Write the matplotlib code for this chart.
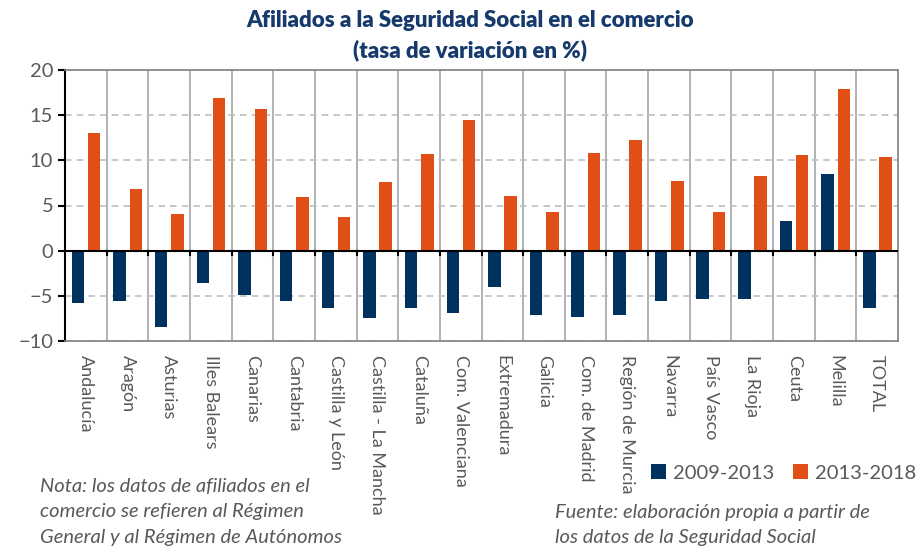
import matplotlib.pyplot as plt
import numpy as np

regiones = ["Andalucía", "Aragón", "Asturias", "Illes Balears", "Canarias", "Cantabria",
            "Castilla y León", "Castilla - La Mancha", "Cataluña", "Com. Valenciana",
            "Extremadura", "Galicia", "Com. de Madrid", "Región de Murcia", "Navarra",
            "País Vasco", "La Rioja", "Ceuta", "Melilla", "TOTAL"]
v_2009_2013 = [-5.8, -5.6, -8.5, -3.6, -4.9, -5.6, -6.3, -7.5, -6.3, -6.9,
               -4.0, -7.1, -7.3, -7.1, -5.6, -5.4, -5.4, 3.3, 8.5, -6.3]
v_2013_2018 = [13.0, 6.8, 4.1, 16.9, 15.7, 5.9, 3.7, 7.6, 10.7, 14.5,
               6.0, 4.3, 10.8, 12.2, 7.7, 4.3, 8.3, 10.6, 17.9, 10.4]

azul = "#00315F"
naranja = "#E05016"
gris = "#595959"

plt.rcParams['font.family'] = ['Lato', 'DejaVu Sans']

fig = plt.figure(figsize=(9.18, 5.51), dpi=100)
ax = fig.add_axes([65 / 918, 1 - 341 / 551, 833 / 918, 271 / 551])

x = np.arange(len(regiones))
w = 0.3
ax.bar(x - 0.19, v_2009_2013, width=w, color=azul, label="2009-2013", zorder=3)
ax.bar(x + 0.2, v_2013_2018, width=w, color=naranja, label="2013-2018", zorder=3)

ax.set_xlim(-0.5, len(regiones) - 0.5)
ax.set_ylim(-10, 20)
ax.set_yticks(range(-10, 21, 5))
ax.yaxis.grid(True, linestyle=(0, (4, 3)), color="#BFBFBF", linewidth=1.2, zorder=1)
for b in np.arange(0.5, len(regiones) - 1, 1):
    ax.axvline(b, color="#A6A6A6", linewidth=1.2, zorder=1)
    ax.plot([b, b], [0, -0.45], color="black", linewidth=1.5, zorder=4, clip_on=False)
ax.axhline(0, color="black", linewidth=1.5, zorder=4)

for s in ["top", "right", "bottom"]:
    ax.spines[s].set_color("#808080")
    ax.spines[s].set_linewidth(1.2)
ax.spines["left"].set_color("black")
ax.spines["left"].set_linewidth(1.5)

ax.set_xticks(x)
ax.set_xticklabels(regiones, rotation=270, fontsize=13, color=gris, va="top", ha="center")
ax.tick_params(axis="x", length=0, pad=10)
ax.tick_params(axis="y", labelsize=14.5, labelcolor=gris, length=5, width=1.5, color="black")

fig.text(0.512, 0.962, "Afiliados a la Seguridad Social en el comercio", ha="center", va="center",
         fontsize=16, fontweight="heavy", color="#163A6B")
fig.text(0.512, 0.909, "(tasa de variación en %)", ha="center", va="center",
         fontsize=16, fontweight="heavy", color="#163A6B")

fig.legend(loc="center right", bbox_to_anchor=(916 / 918, 1 - 473 / 551), ncol=2, frameon=False,
           fontsize=14.5, handlelength=0.75, handleheight=0.75, columnspacing=0.9,
           handletextpad=0.35, labelcolor=gris, borderaxespad=0, borderpad=0)

nota = "Nota: los datos de afiliados en el\ncomercio se refieren al Régimen\nGeneral y al Régimen de Autónomos"
fuente = "Fuente: elaboración propia a partir de\nlos datos de la Seguridad Social"
fig.text(40 / 918, 1 - 478 / 551, nota, ha="left", va="top", fontsize=14.5, style="italic",
         color=gris, linespacing=1.6)
fig.text(555 / 918, 1 - 504 / 551, fuente, ha="left", va="top", fontsize=14.5, style="italic",
         color=gris, linespacing=1.6)

fig.savefig("out.png", dpi=100)
